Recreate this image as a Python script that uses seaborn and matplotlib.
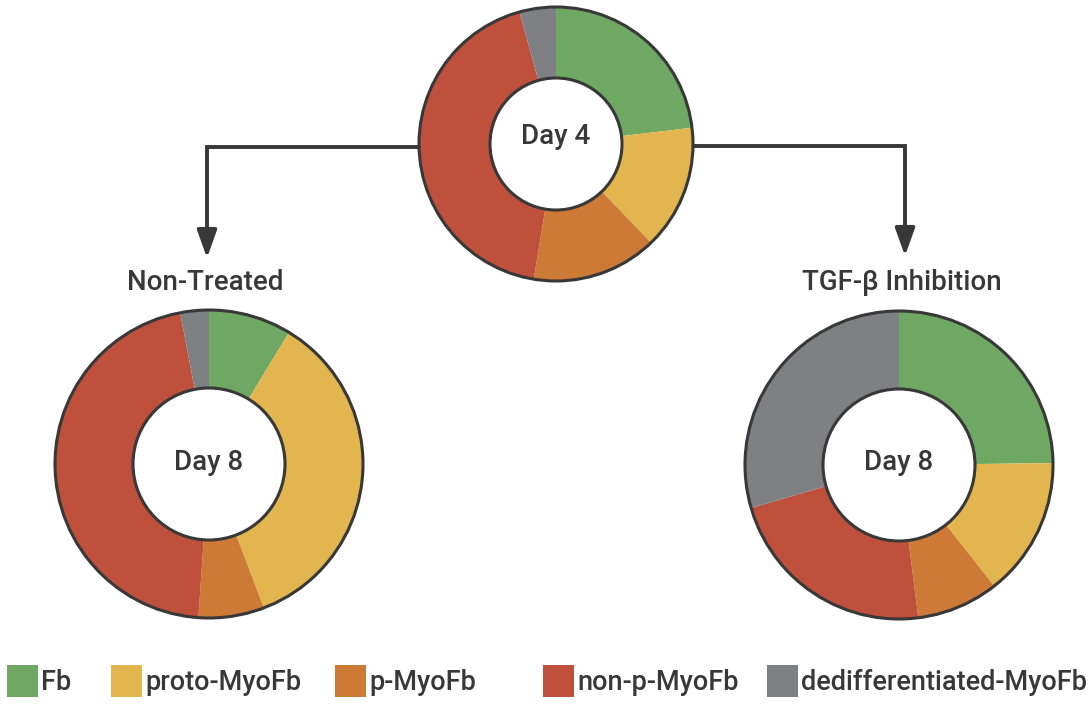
import numpy as np
import matplotlib
matplotlib.use("Agg")
import matplotlib.pyplot as plt
from matplotlib.patches import Circle, Rectangle
import seaborn as sns

# cell populations, fractions (clockwise from 12 o'clock)
categories = ["Fb", "proto-MyoFb", "p-MyoFb", "non-p-MyoFb", "dedifferentiated-MyoFb"]
day4 = [0.231, 0.147, 0.148, 0.431, 0.043]
day8_non_treated = [0.087, 0.355, 0.069, 0.459, 0.030]
day8_tgfb = [0.248, 0.146, 0.086, 0.225, 0.295]
colors = ["#6EA862", "#E2B54E", "#CC7A35", "#BF503C", "#7F8084"]

sns.set_theme(style="white")
plt.rcParams['font.family'] = ['Roboto', 'DejaVu Sans']
dark = "#383838"
fs = 19.5
fw = "medium"

W, H = 1091, 704
fig = plt.figure(figsize=(W / 100, H / 100), dpi=100)
ax = fig.add_axes([0, 0, 1, 1])

def donut(vals, cx, cy, R, r, label, ty):
    cy = H - cy
    ax.pie(vals, colors=colors, startangle=90, counterclock=False, radius=R,
           center=(cx, cy), wedgeprops=dict(width=R - r, linewidth=0))
    ax.add_patch(Circle((cx, cy), R, fill=False, ec=dark, lw=2.2, zorder=5))
    ax.add_patch(Circle((cx, cy), r, fc="white", ec=dark, lw=2.2, zorder=5))
    ax.text(cx, H - ty, label, ha="center", va="center", fontsize=fs + 0.5,
            fontweight=fw, color=dark, zorder=6)

donut(day4, 556, 144, 137, 66, "Day 4", 136)
donut(day8_non_treated, 209, 464, 154, 76, "Day 8", 463)
donut(day8_tgfb, 899, 465, 154, 76, "Day 8", 463)

# connector arrows
for x0, x1, y0, y1 in [(419, 207, 147, 258), (694, 905, 146, 256)]:
    ax.plot([x0, x1, x1], [H - y0, H - y0, H - y1 + 20], color=dark, lw=2.8,
            solid_joinstyle="miter", zorder=1)
    ax.annotate("", xy=(x1, H - y1), xytext=(x1, H - y1 + 24),
                arrowprops=dict(arrowstyle="-|>,head_length=1.4,head_width=0.5",
                                color=dark, lw=2.8, shrinkA=0, shrinkB=0))

ax.text(205, H - 283, "Non-Treated", ha="center", va="center", fontsize=fs + 0.5,
        fontweight=fw, color=dark)
ax.text(902, H - 283, "TGF-β Inhibition", ha="center", va="center", fontsize=fs + 0.5,
        fontweight=fw, color=dark)

# legend
leg_x = [7, 111, 335, 543, 767]
for x, lab, c in zip(leg_x, categories, colors):
    ax.add_patch(Rectangle((x, H - 697), 31, 32, fc=c, ec="none"))
    ax.text(x + 34, H - 682, lab, ha="left", va="center", fontsize=fs,
            fontweight=fw, color=dark)

ax.set_xlim(0, W)
ax.set_ylim(0, H)
ax.set_aspect("auto")
ax.axis("off")
fig.savefig("out.png", dpi=100)
